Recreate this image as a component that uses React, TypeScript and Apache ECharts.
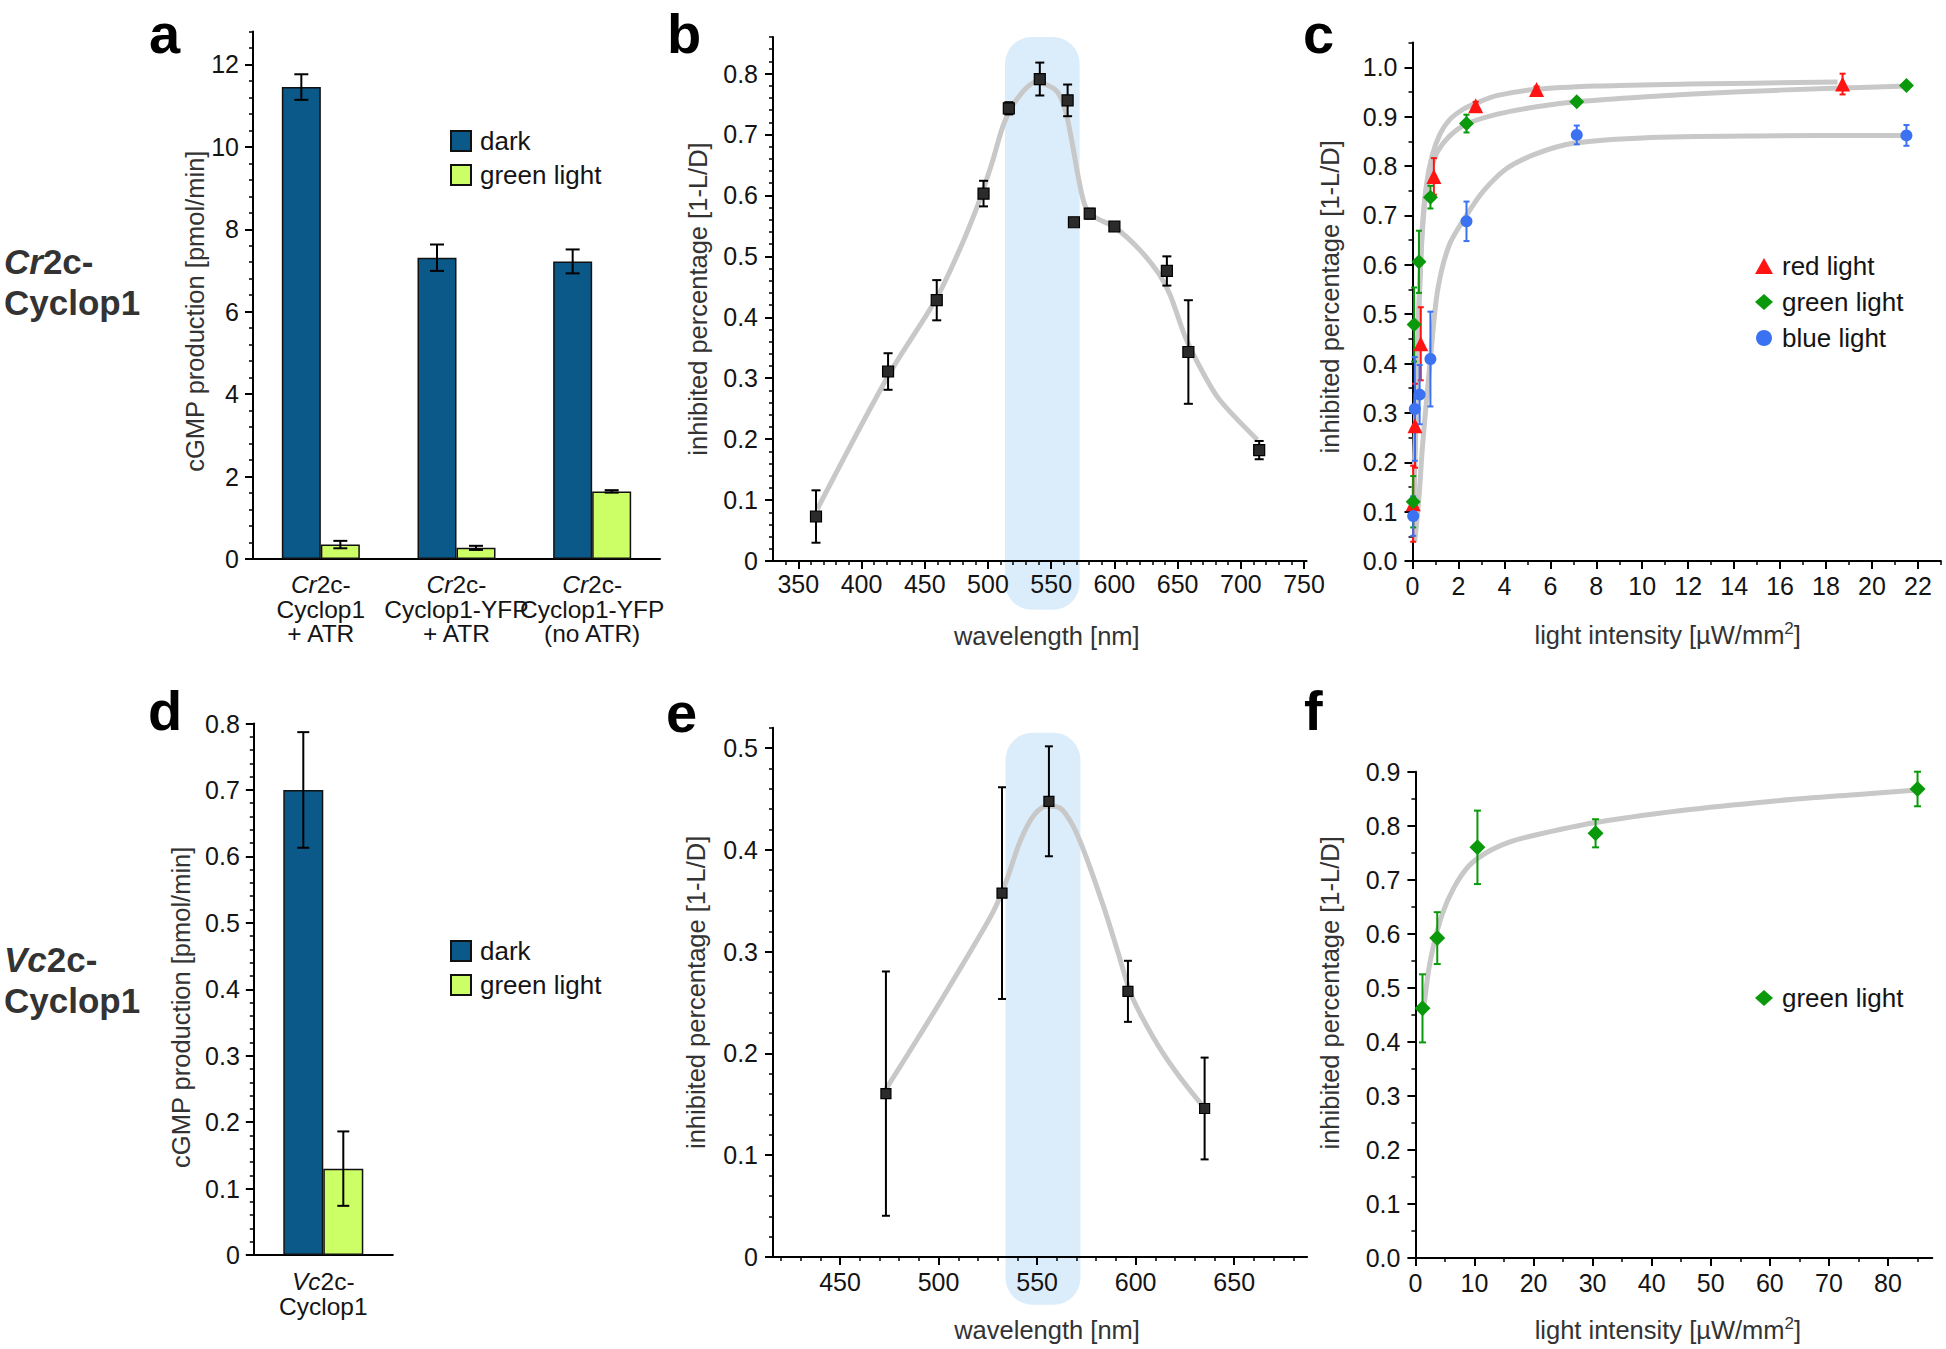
import React, { useEffect, useRef } from "react";
import * as echarts from "echarts";

const FONT = '"Liberation Sans", Arial, Helvetica, sans-serif';
const TEXT = "#141414";
const TITLE = "#333333";
const DARK_BLUE = "#0a5989";
const LIGHT_GREEN = "#ccff66";
const CURVE = "#c8c8c8";
const BAND = "#dbedfb";
const RED = "#ff1414";
const GREEN = "#0a990a";
const BLUE = "#3b72f2";
const TICK_FONT = 25;

// ---------- panel a ----------
const A_CATEGORIES = ["Cr2c-\nCyclop1\n+ ATR", "Cr2c-\nCyclop1-YFP\n+ ATR", "Cr2c-\nCyclop1-YFP\n(no ATR)"];
const A_DARK = [11.45, 7.31, 7.22];
const A_DARK_ERR = [0.31, 0.32, 0.29];
const A_GREEN = [0.35, 0.27, 1.64];
const A_GREEN_ERR = [0.09, 0.05, 0.03];
const A_Y_TICKS = [0, 2, 4, 6, 8, 10, 12];
const A_Y_RANGE = [0, 12.8];

// ---------- panel b ----------
const B_X = [364, 421, 459.5, 496.5, 516.5, 541, 563, 568, 580.5, 600, 641.5, 658.5, 714.5];
const B_Y = [0.073, 0.311, 0.428, 0.603, 0.743, 0.791, 0.756, 0.556, 0.57, 0.549, 0.476, 0.343, 0.182];
const B_ERR = [0.043, 0.03, 0.033, 0.021, 0.01, 0.027, 0.026, 0.004, 0.008, 0.005, 0.024, 0.085, 0.015];
const B_CURVE_X = [365, 421.7, 459, 478, 493, 503, 513, 524, 538, 554, 561, 566, 572, 577, 584, 600, 619, 635, 644, 656, 669, 683, 713];
const B_CURVE_Y = [0.085, 0.306, 0.43, 0.513, 0.59, 0.652, 0.72, 0.761, 0.786, 0.772, 0.741, 0.693, 0.624, 0.582, 0.565, 0.548, 0.513, 0.472, 0.437, 0.368, 0.313, 0.265, 0.199];
const B_BAND_NM = [513.5, 572.5];
const B_BAND_Y = [-0.08, 0.86];
const B_X_TICKS = [350, 400, 450, 500, 550, 600, 650, 700, 750];
const B_X_RANGE = [330, 752];
const B_Y_TICKS = [0, 0.1, 0.2, 0.3, 0.4, 0.5, 0.6, 0.7, 0.8];
const B_Y_RANGE = [0, 0.86];

// ---------- panel c ----------
const C_RED_X = [0.03, 0.11, 0.36, 0.93, 2.75, 5.4, 18.72];
const C_RED_Y = [0.116, 0.274, 0.44, 0.779, 0.922, 0.955, 0.966];
const C_RED_ERR = [0.077, 0.085, 0.074, 0.037, 0.008, 0.006, 0.021];
const C_GREEN_X = [0.03, 0.07, 0.28, 0.78, 2.35, 7.15, 21.5];
const C_GREEN_Y = [0.12, 0.479, 0.606, 0.737, 0.886, 0.93, 0.963];
const C_GREEN_ERR = [0.052, 0.075, 0.063, 0.023, 0.018, 0.005, 0.004];
const C_BLUE_X = [0.03, 0.1, 0.31, 0.78, 2.35, 7.15, 21.5];
const C_BLUE_Y = [0.091, 0.308, 0.337, 0.409, 0.688, 0.863, 0.862];
const C_BLUE_ERR = [0.04, 0.105, 0.06, 0.096, 0.04, 0.019, 0.021];
const C_RED_CURVE_X = [0.05, 0.15, 0.27, 0.42, 0.6, 0.85, 1.2, 1.6, 2.2, 2.8, 3.7, 5.3, 8, 12, 18.5];
const C_RED_CURVE_Y = [0.1, 0.3, 0.5, 0.67, 0.76, 0.82, 0.865, 0.893, 0.915, 0.928, 0.943, 0.955, 0.962, 0.966, 0.97];
const C_GREEN_CURVE_X = [0.05, 0.15, 0.27, 0.42, 0.6, 0.85, 1.1, 1.6, 2.35, 3.7, 5.4, 7.1, 10, 14, 18, 21.5];
const C_GREEN_CURVE_Y = [0.1, 0.3, 0.5, 0.66, 0.75, 0.8, 0.83, 0.86, 0.885, 0.905, 0.92, 0.93, 0.94, 0.95, 0.957, 0.962];
const C_BLUE_CURVE_X = [0.1, 0.28, 0.43, 0.6, 0.8, 1.1, 1.6, 2.35, 3.1, 4.1, 5.4, 7, 10, 15, 21.5];
const C_BLUE_CURVE_Y = [0.04, 0.128, 0.23, 0.32, 0.42, 0.55, 0.64, 0.7, 0.75, 0.795, 0.825, 0.846, 0.857, 0.861, 0.862];
const C_X_TICKS = [0, 2, 4, 6, 8, 10, 12, 14, 16, 18, 20, 22];
const C_X_RANGE = [0, 23];
const C_Y_TICKS = [0, 0.1, 0.2, 0.3, 0.4, 0.5, 0.6, 0.7, 0.8, 0.9, 1.0];
const C_Y_RANGE = [0, 1.05];

// ---------- panel d ----------
const D_CATEGORIES = ["Vc2c-\nCyclop1"];
const D_DARK = [0.7];
const D_DARK_ERR = [0.087];
const D_GREEN = [0.13];
const D_GREEN_ERR = [0.056];
const D_Y_TICKS = [0, 0.1, 0.2, 0.3, 0.4, 0.5, 0.6, 0.7, 0.8];
const D_Y_RANGE = [0, 0.8];

// ---------- panel e ----------
const E_X = [473.3, 532.2, 556, 596.1, 635];
const E_Y = [0.1605, 0.3575, 0.4477, 0.261, 0.1459];
const E_ERR = [0.12, 0.104, 0.054, 0.03, 0.05];
const E_CURVE_X = [473.3, 493.7, 511.8, 527.7, 534.5, 541.3, 548, 554.9, 561.7, 568.5, 575.3, 584.3, 591.1, 597.9, 609.2, 620.6, 635];
const E_CURVE_Y = [0.165, 0.228, 0.286, 0.339, 0.37, 0.408, 0.433, 0.443, 0.441, 0.4225, 0.391, 0.341, 0.299, 0.257, 0.215, 0.1815, 0.146];
const E_BAND_NM = [534, 572];
const E_BAND_Y = [-0.047, 0.515];
const E_X_TICKS = [450, 500, 550, 600, 650];
const E_X_RANGE = [416, 687];
const E_Y_TICKS = [0, 0.1, 0.2, 0.3, 0.4, 0.5];
const E_Y_RANGE = [0, 0.52];

// ---------- panel f ----------
const F_X = [1.2, 3.7, 10.5, 30.5, 85];
const F_Y = [0.462, 0.592, 0.76, 0.786, 0.868];
const F_ERR = [0.063, 0.048, 0.068, 0.026, 0.032];
const F_CURVE_X = [1.5, 2.2, 3, 4.5, 6.5, 9, 12, 16, 20, 30, 45, 60, 75, 85];
const F_CURVE_Y = [0.47, 0.53, 0.575, 0.635, 0.685, 0.725, 0.75, 0.77, 0.782, 0.805, 0.828, 0.845, 0.858, 0.866];
const F_X_TICKS = [0, 10, 20, 30, 40, 50, 60, 70, 80];
const F_X_RANGE = [0, 87.5];
const F_Y_TICKS = [0, 0.1, 0.2, 0.3, 0.4, 0.5, 0.6, 0.7, 0.8, 0.9];
const F_Y_RANGE = [0, 0.9];

const range = (a: number, b: number, s: number) => {
  const out: number[] = [];
  for (let i = 0; a + i * s <= b + 1e-9; i++) out.push(Math.round((a + i * s) * 1e6) / 1e6);
  return out;
};

const fmtInt = (v: number) => String(Math.round(v));
const fmtDec = (v: number) => (v === 0 ? "0" : v.toFixed(1));
const fmtFix1 = (v: number) => v.toFixed(1);

function majorAxis(o: any) {
  return {
    type: "value",
    gridIndex: o.grid,
    min: o.range[0],
    max: o.range[1],
    position: o.position,
    axisLine: { show: true, onZero: false, lineStyle: { color: "#000", width: 2 } },
    axisTick: { show: true, length: o.tickLen || 8, customValues: o.ticks, lineStyle: { color: "#000", width: 2 } },
    axisLabel: {
      show: true,
      customValues: o.ticks,
      formatter: o.fmt,
      margin: o.margin,
      fontSize: TICK_FONT,
      color: TEXT,
      fontFamily: FONT,
    },
    splitLine: { show: false },
    name: o.name,
    nameLocation: "middle",
    nameGap: o.nameGap,
    nameMoveOverlap: false,
    nameTextStyle: { fontSize: 25.5, color: TITLE, fontFamily: FONT, padding: o.namePad || 0, rich: o.nameRich },
  };
}

function minorAxis(grid: number, rng: number[], step: number, position: string, start?: number) {
  return {
    type: "value",
    gridIndex: grid,
    min: rng[0],
    max: rng[1],
    position,
    axisLine: { show: false, onZero: false },
    axisTick: {
      show: true,
      length: 4,
      customValues: range(start != null ? start : rng[0] + step, rng[1], step),
      lineStyle: { color: "#000", width: 1.5 },
    },
    axisLabel: { show: false },
    splitLine: { show: false },
  };
}

const italicize = (v: string) => v.replace(/^(Cr|Vc)/, "{i|$1}");

function categoryAxis(grid: number, data: string[], margin: number, lh: number) {
  return {
    type: "category",
    gridIndex: grid,
    data,
    position: "bottom",
    axisLine: { onZero: false, lineStyle: { color: "#000", width: 2 } },
    axisTick: { length: 8, lineStyle: { color: "#000", width: 2 } },
    axisLabel: {
      interval: 0,
      margin,
      fontSize: 24.5,
      lineHeight: lh,
      color: TEXT,
      fontFamily: FONT,
      formatter: italicize,
      rich: { i: { fontStyle: "italic", fontSize: 24.5, lineHeight: lh, color: TEXT, fontFamily: FONT } },
    },
    splitLine: { show: false },
  };
}

function errorSeries(xi: number, yi: number, xs: number[], ys: number[], errs: number[], color: string, cap: number, offset = 0) {
  return {
    type: "custom",
    xAxisIndex: xi,
    yAxisIndex: yi,
    z: 4,
    clip: false,
    silent: true,
    data: xs.map((x, i) => [x, ys[i] - errs[i], ys[i] + errs[i]]),
    encode: { x: 0, y: [1, 2] },
    renderItem: (_p: any, api: any) => {
      const lo = api.coord([api.value(0), api.value(1)]);
      const hi = api.coord([api.value(0), api.value(2)]);
      const x = lo[0] + offset;
      const st = { stroke: color, lineWidth: 2 };
      return {
        type: "group",
        children: [
          { type: "line", shape: { x1: x, y1: lo[1], x2: x, y2: hi[1] }, style: st },
          { type: "line", shape: { x1: x - cap / 2, y1: lo[1], x2: x + cap / 2, y2: lo[1] }, style: st },
          { type: "line", shape: { x1: x - cap / 2, y1: hi[1], x2: x + cap / 2, y2: hi[1] }, style: st },
        ],
      };
    },
  };
}

function bandSeries(xi: number, yi: number, nm: number[], yr: number[]) {
  return {
    type: "custom",
    xAxisIndex: xi,
    yAxisIndex: yi,
    z: -1,
    clip: false,
    silent: true,
    data: [[nm[0], nm[1], yr[0], yr[1]]],
    encode: { x: [0, 1], y: [2, 3] },
    renderItem: (_p: any, api: any) => {
      const p0 = api.coord([api.value(0), api.value(3)]);
      const p1 = api.coord([api.value(1), api.value(2)]);
      const w = p1[0] - p0[0];
      return {
        type: "rect",
        shape: { x: p0[0], y: p0[1], width: w, height: p1[1] - p0[1], r: w * 0.36 },
        style: { fill: BAND },
      };
    },
  };
}

function curveSeries(xi: number, yi: number, xs: number[], ys: number[]) {
  return {
    type: "line",
    xAxisIndex: xi,
    yAxisIndex: yi,
    data: xs.map((x, i) => [x, ys[i]]),
    smooth: 0.3,
    showSymbol: false,
    symbol: "none",
    silent: true,
    z: 2,
    lineStyle: { color: CURVE, width: 5 },
  };
}

function scatterSeries(name: string, xi: number, yi: number, xs: number[], ys: number[], symbol: string, size: number, color: string, border?: string) {
  return {
    type: "scatter",
    name,
    xAxisIndex: xi,
    yAxisIndex: yi,
    data: xs.map((x, i) => [x, ys[i]]),
    symbol,
    symbolSize: size,
    z: 5,
    itemStyle: { color, borderColor: border || color, borderWidth: border ? 1.2 : 0, opacity: 1 },
  };
}

function barSeries(name: string, xi: number, yi: number, data: number[], color: string, width: number) {
  return {
    type: "bar",
    name,
    xAxisIndex: xi,
    yAxisIndex: yi,
    data,
    barWidth: width,
    barGap: "0%",
    z: 2,
    itemStyle: { color, borderColor: "#111", borderWidth: 1.5 },
  };
}

const letter = (t: string, x: number, y: number) => ({
  type: "text",
  x,
  y,
  silent: true,
  style: {
    text: t,
    fill: "#000",
    font: `bold 56px ${FONT}`,
    lineHeight: 56,
    verticalAlign: "middle",
    textVerticalAlign: "middle",
  },
});

const rowTitle = (t: string, x: number, y: number) => {
  const tok = { fontWeight: "bold", fontSize: 35, fontFamily: FONT, fill: "#333", color: "#333", lineHeight: 41 };
  return {
    type: "text",
    x,
    y,
    silent: true,
    style: {
      text: t,
      rich: { i: { ...tok, fontStyle: "italic" }, b: tok },
      verticalAlign: "top",
      textVerticalAlign: "top",
    },
  };
};

const SUP_NAME = "{n|light intensity [µW/mm}{s|2}{n|]}";
const SUP_RICH = {
  n: { fontSize: 25.5, color: TITLE, fontFamily: FONT, lineHeight: 30 },
  s: { fontSize: 17, color: TITLE, fontFamily: FONT, lineHeight: 14, verticalAlign: "top" },
};

function buildOption() {
  const legendBase = {
    orient: "vertical",
    padding: 0,
    itemGap: 8,
    selectedMode: false,
    formatter: (n: string) => n.split("|")[0],
    textStyle: { fontSize: 26, color: TEXT, fontFamily: FONT, padding: [0, 0, 0, 4] },
  };
  return {
    animation: false,
    backgroundColor: "#ffffff",
    grid: [
      { left: 253, top: 31.4, width: 407, height: 527.6, outerBoundsMode: "none" },
      { left: 773, top: 37, width: 533.6, height: 524, outerBoundsMode: "none" },
      { left: 1412.5, top: 42.6, width: 528.4, height: 518.4, outerBoundsMode: "none" },
      { left: 253.8, top: 723.5, width: 139, height: 531.5, outerBoundsMode: "none" },
      { left: 773, top: 727.7, width: 534.1, height: 529.3, outerBoundsMode: "none" },
      { left: 1415.4, top: 771.7, width: 516.9, height: 486.3, outerBoundsMode: "none" },
    ],
    xAxis: [
      categoryAxis(0, A_CATEGORIES, 13.5, 24.5),
      majorAxis({ grid: 1, range: B_X_RANGE, position: "bottom", ticks: B_X_TICKS, fmt: fmtInt, margin: 10, name: "wavelength [nm]", nameGap: 62, namePad: [0, 0, 0, 14] }),
      minorAxis(1, B_X_RANGE, 10, "bottom", 340),
      majorAxis({ grid: 2, range: C_X_RANGE, position: "bottom", ticks: C_X_TICKS, fmt: fmtInt, margin: 12, name: SUP_NAME, nameRich: SUP_RICH, nameGap: 59, namePad: [0, 18, 0, 0] }),
      minorAxis(2, C_X_RANGE, 1, "bottom"),
      categoryAxis(3, D_CATEGORIES, 13.5, 25.5),
      majorAxis({ grid: 4, range: E_X_RANGE, position: "bottom", ticks: E_X_TICKS, fmt: fmtInt, margin: 12, name: "wavelength [nm]", nameGap: 60, namePad: [0, 0, 0, 14] }),
      minorAxis(4, E_X_RANGE, 10, "bottom", 420),
      majorAxis({ grid: 5, range: F_X_RANGE, position: "bottom", ticks: F_X_TICKS, fmt: fmtInt, margin: 12, name: SUP_NAME, nameRich: SUP_RICH, nameGap: 57, namePad: [0, 12, 0, 0] }),
      minorAxis(5, F_X_RANGE, 5, "bottom"),
    ],
    yAxis: [
      majorAxis({ grid: 0, range: A_Y_RANGE, position: "left", ticks: A_Y_TICKS, fmt: fmtInt, margin: 14, name: "cGMP production [pmol/min]", nameGap: 45, namePad: [0, 32, 0, 0] }),
      minorAxis(0, A_Y_RANGE, 0.4, "left"),
      majorAxis({ grid: 1, range: B_Y_RANGE, position: "left", ticks: B_Y_TICKS, fmt: fmtDec, margin: 15, name: "inhibited percentage [1-L/D]", nameGap: 62 }),
      minorAxis(1, B_Y_RANGE, 0.02, "left"),
      majorAxis({ grid: 2, range: C_Y_RANGE, position: "left", ticks: C_Y_TICKS, fmt: fmtFix1, margin: 15, name: "inhibited percentage [1-L/D]", nameGap: 70, namePad: [0, 0, 0, 10] }),
      minorAxis(2, C_Y_RANGE, 0.05, "left"),
      majorAxis({ grid: 3, range: D_Y_RANGE, position: "left", ticks: D_Y_TICKS, fmt: fmtDec, margin: 14, name: "cGMP production [pmol/min]", nameGap: 60, namePad: [0, 36, 0, 0] }),
      minorAxis(3, D_Y_RANGE, 0.02, "left"),
      majorAxis({ grid: 4, range: E_Y_RANGE, position: "left", ticks: E_Y_TICKS, fmt: fmtDec, margin: 15, name: "inhibited percentage [1-L/D]", nameGap: 64 }),
      minorAxis(4, E_Y_RANGE, 0.02, "left"),
      majorAxis({ grid: 5, range: F_Y_RANGE, position: "left", ticks: F_Y_TICKS, fmt: fmtFix1, margin: 15, name: "inhibited percentage [1-L/D]", nameGap: 72, namePad: [0, 0, 0, 44] }),
      minorAxis(5, F_Y_RANGE, 0.05, "left"),
    ],
    legend: [
      { ...legendBase, data: ["dark|a", "green light|a"], left: 450, top: 128, itemWidth: 20, itemHeight: 20, icon: "rect" },
      { ...legendBase, data: ["red light|c", "green light|c", "blue light|c"], left: 1755, top: 253, itemWidth: 18, itemHeight: 16, itemGap: 10 },
      { ...legendBase, data: ["dark|d", "green light|d"], left: 450, top: 938, itemWidth: 20, itemHeight: 20, icon: "rect" },
      { ...legendBase, data: ["green light|f"], left: 1755, top: 985, itemWidth: 18, itemHeight: 16 },
    ],
    graphic: [
      letter("a", 149, 33),
      letter("b", 667, 33),
      letter("c", 1303, 33),
      letter("d", 148, 710),
      letter("e", 666, 712),
      letter("f", 1304, 710),
      rowTitle("{i|Cr}{b|2c-}\n{b|Cyclop1}", 4, 241),
      rowTitle("{i|Vc}{b|2c-}\n{b|Cyclop1}", 4, 939),
    ],
    series: [
      // a
      barSeries("dark|a", 0, 0, A_DARK, DARK_BLUE, 39),
      barSeries("green light|a", 0, 0, A_GREEN, LIGHT_GREEN, 39),
      errorSeries(0, 0, A_DARK.map((_, i) => i), A_DARK, A_DARK_ERR, "#000", 14, -19.5),
      errorSeries(0, 0, A_GREEN.map((_, i) => i), A_GREEN, A_GREEN_ERR, "#000", 14, 19.5),
      // b
      bandSeries(1, 2, B_BAND_NM, B_BAND_Y),
      curveSeries(1, 2, B_CURVE_X, B_CURVE_Y),
      errorSeries(1, 2, B_X, B_Y, B_ERR, "#000", 9),
      scatterSeries("b points", 1, 2, B_X, B_Y, "rect", 11, "#2b2b2b", "#000"),
      // c
      curveSeries(3, 4, C_RED_CURVE_X, C_RED_CURVE_Y),
      curveSeries(3, 4, C_GREEN_CURVE_X, C_GREEN_CURVE_Y),
      curveSeries(3, 4, C_BLUE_CURVE_X, C_BLUE_CURVE_Y),
      errorSeries(3, 4, C_RED_X, C_RED_Y, C_RED_ERR, RED, 6),
      errorSeries(3, 4, C_GREEN_X, C_GREEN_Y, C_GREEN_ERR, GREEN, 6),
      errorSeries(3, 4, C_BLUE_X, C_BLUE_Y, C_BLUE_ERR, BLUE, 6),
      scatterSeries("red light|c", 3, 4, C_RED_X, C_RED_Y, "triangle", 15, RED),
      scatterSeries("green light|c", 3, 4, C_GREEN_X, C_GREEN_Y, "diamond", 15, GREEN),
      scatterSeries("blue light|c", 3, 4, C_BLUE_X, C_BLUE_Y, "circle", 12, BLUE),
      // d
      barSeries("dark|d", 5, 6, D_DARK, DARK_BLUE, 40),
      barSeries("green light|d", 5, 6, D_GREEN, LIGHT_GREEN, 40),
      errorSeries(5, 6, D_DARK.map((_, i) => i), D_DARK, D_DARK_ERR, "#000", 12, -20),
      errorSeries(5, 6, D_GREEN.map((_, i) => i), D_GREEN, D_GREEN_ERR, "#000", 12, 20),
      // e
      bandSeries(6, 8, E_BAND_NM, E_BAND_Y),
      curveSeries(6, 8, E_CURVE_X, E_CURVE_Y),
      errorSeries(6, 8, E_X, E_Y, E_ERR, "#000", 8),
      scatterSeries("e points", 6, 8, E_X, E_Y, "rect", 10, "#2b2b2b", "#000"),
      // f
      curveSeries(8, 10, F_CURVE_X, F_CURVE_Y),
      errorSeries(8, 10, F_X, F_Y, F_ERR, GREEN, 7),
      scatterSeries("green light|f", 8, 10, F_X, F_Y, "diamond", 16, GREEN),
    ],
  };
}

export default function App() {
  const ref = useRef<HTMLDivElement>(null);
  useEffect(() => {
    const chart = echarts.init(ref.current as HTMLDivElement, null, { renderer: "svg" });
    chart.setOption(buildOption() as any);
    return () => chart.dispose();
  }, []);
  return (
    <div
      ref={ref}
      style={{ position: "fixed", left: 0, top: 0, width: 1946, height: 1349, background: "#fff" }}
    />
  );
}
